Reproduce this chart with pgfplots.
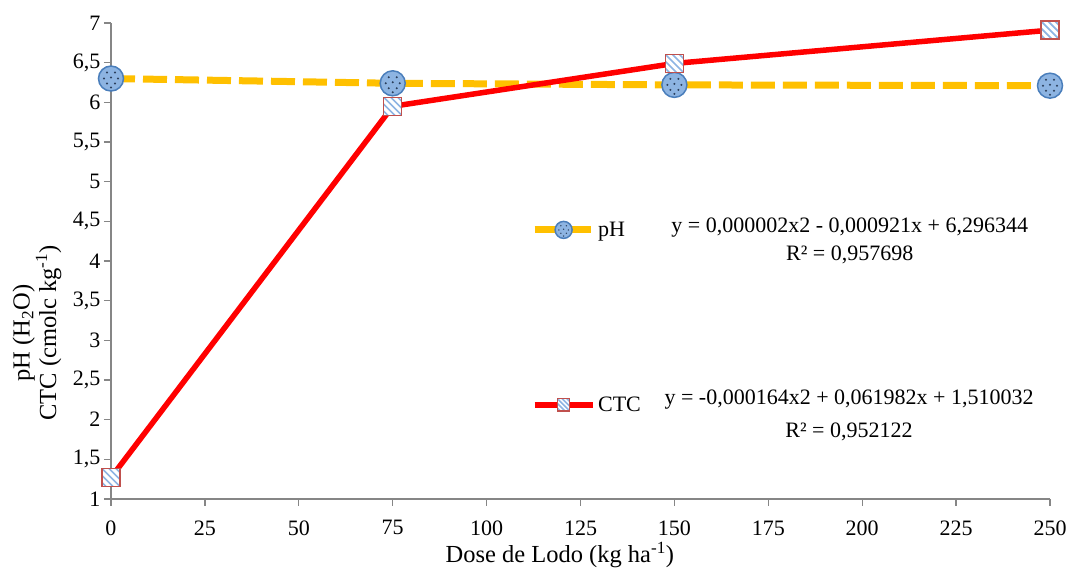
\documentclass[border=0pt]{standalone}
\usepackage{fontspec}
\setmainfont{Liberation Serif}
\usepackage{pgfplots}
\pgfplotsset{compat=1.18}
\definecolor{phorange}{HTML}{FFC000}
\definecolor{ctcred}{HTML}{FF0000}
\definecolor{axgray}{HTML}{868686}
\definecolor{circfill}{HTML}{8DB4E2}
\definecolor{circedge}{HTML}{4A7EBB}
\definecolor{dotcol}{HTML}{2B3F5C}
\definecolor{sqedge}{HTML}{C0504D}
\definecolor{hatchblue}{HTML}{8EB4E3}

\pgfdeclareplotmark{dotcircle}{%
  \pgfpathcircle{\pgfpointorigin}{\pgfplotmarksize}%
  \pgfusepathqfillstroke
  \begin{pgfscope}%
    \pgfsetfillcolor{dotcol}%
    \pgfpathcircle{\pgfpoint{-4pt}{6pt}}{1.1pt}%
    \pgfpathcircle{\pgfpoint{4pt}{6pt}}{1.1pt}%
    \pgfpathcircle{\pgfpoint{-7pt}{0pt}}{1.1pt}%
    \pgfpathcircle{\pgfpoint{0pt}{1pt}}{1.1pt}%
    \pgfpathcircle{\pgfpoint{7pt}{0pt}}{1.1pt}%
    \pgfpathcircle{\pgfpoint{-4pt}{-5pt}}{1.1pt}%
    \pgfpathcircle{\pgfpoint{4pt}{-5pt}}{1.1pt}%
    \pgfpathcircle{\pgfpoint{0pt}{-9pt}}{1.1pt}%
    \pgfusepathqfill
  \end{pgfscope}%
}

\pgfdeclareplotmark{hatchsquare}{%
  \pgfpathrectangle{\pgfpoint{-\pgfplotmarksize}{-\pgfplotmarksize}}{\pgfpoint{2\pgfplotmarksize}{2\pgfplotmarksize}}%
  \pgfusepathqfill
  \begin{pgfscope}%
    \pgfpathrectangle{\pgfpoint{-\pgfplotmarksize}{-\pgfplotmarksize}}{\pgfpoint{2\pgfplotmarksize}{2\pgfplotmarksize}}%
    \pgfusepathqclip
    \pgfsetstrokecolor{hatchblue}%
    \pgfsetlinewidth{1.6pt}%
    \pgfpathmoveto{\pgfpoint{-24pt}{10pt}}\pgfpathlineto{\pgfpoint{-4pt}{-10pt}}%
    \pgfpathmoveto{\pgfpoint{-17pt}{10pt}}\pgfpathlineto{\pgfpoint{3pt}{-10pt}}%
    \pgfpathmoveto{\pgfpoint{-10pt}{10pt}}\pgfpathlineto{\pgfpoint{10pt}{-10pt}}%
    \pgfpathmoveto{\pgfpoint{-3pt}{10pt}}\pgfpathlineto{\pgfpoint{17pt}{-10pt}}%
    \pgfpathmoveto{\pgfpoint{4pt}{10pt}}\pgfpathlineto{\pgfpoint{24pt}{-10pt}}%
    \pgfusepathqstroke
  \end{pgfscope}%
  \pgfpathrectangle{\pgfpoint{-\pgfplotmarksize}{-\pgfplotmarksize}}{\pgfpoint{2\pgfplotmarksize}{2\pgfplotmarksize}}%
  \pgfusepathqstroke
}

\pgfplotstableread{
x y
0 6.30
75 6.24
150 6.22
250 6.21
}\phdata
\pgfplotstableread{
x y
0 1.27
75 5.95
150 6.49
250 6.91
}\ctcdata

\begin{document}
\begin{tikzpicture}[font=\fontsize{22}{26}\selectfont]
\begin{axis}[
  scale only axis, width=939pt, height=476pt,
  xmin=0, xmax=250, ymin=1, ymax=7,
  xtick={0,25,...,250}, ytick={1,1.5,...,7},
  axis x line=bottom, axis y line=left,
  axis line style={-, axgray, line width=1.3pt},
  tick style={axgray, line width=1.3pt},
  tick align=outside, major tick length=7pt,
  /pgf/number format/assume math mode=true,
  xticklabel={\pgfmathprintnumber{\tick}},
  yticklabel={\pgfmathprintnumber[use comma, fixed, precision=1]{\tick}},
  xticklabel style={yshift=-11pt},
  xlabel={Dose de Lodo (kg ha\textsuperscript{-1})},
  xlabel style={at={(rel axis cs:0.478,0)}, anchor=base, yshift=-64pt, font=\fontsize{24.5}{28}\selectfont},
  ylabel={pH (H\textsubscript{2}O)\\CTC (cmolc kg\textsuperscript{-1})},
  ylabel style={at={(rel axis cs:-0.0788,0.349)}, anchor=center, align=center, font=\fontsize{24.5}{22}\selectfont},
  legend style={at={(axis cs:111.8,4.52)}, anchor=north west, draw=none, fill=none, inner sep=0pt, row sep=155pt, font=\fontsize{22}{26}\selectfont},
  legend cell align=left,
  legend image code/.code={\draw[mark repeat=2,mark phase=2,#1, every mark/.append style={scale=0.68}] plot coordinates {(0pt,0pt) (29pt,0pt) (58pt,0pt)};},
]
\addplot[phorange, line width=7pt, dash pattern=on 24pt off 8pt,
  mark=dotcircle, mark size=12.5pt,
  mark options={solid, draw=circedge, fill=circfill, line width=1.5pt}] table[x=x,y=y] {\phdata};
\addlegendentry{pH}
\addplot[ctcred, line width=5.5pt,
  mark=hatchsquare, mark size=9pt,
  mark options={solid, draw=sqedge, fill=white, line width=1.3pt}] table[x=x,y=y] {\ctcdata};
\addlegendentry{CTC}
\node[align=center, font=\fontsize{22}{28}\selectfont] at (axis cs:196.7,4.25) {y = 0,000002x2 - 0,000921x + 6,296344\\R² = 0,957698};
\node[align=center, font=\fontsize{22}{33}\selectfont] at (axis cs:196.5,2.06) {y = -0,000164x2 + 0,061982x + 1,510032\\R² = 0,952122};
\end{axis}
\pgfresetboundingbox
\useasboundingbox (-111pt,-70pt) rectangle (978pt,499pt);
\end{tikzpicture}
\end{document}
